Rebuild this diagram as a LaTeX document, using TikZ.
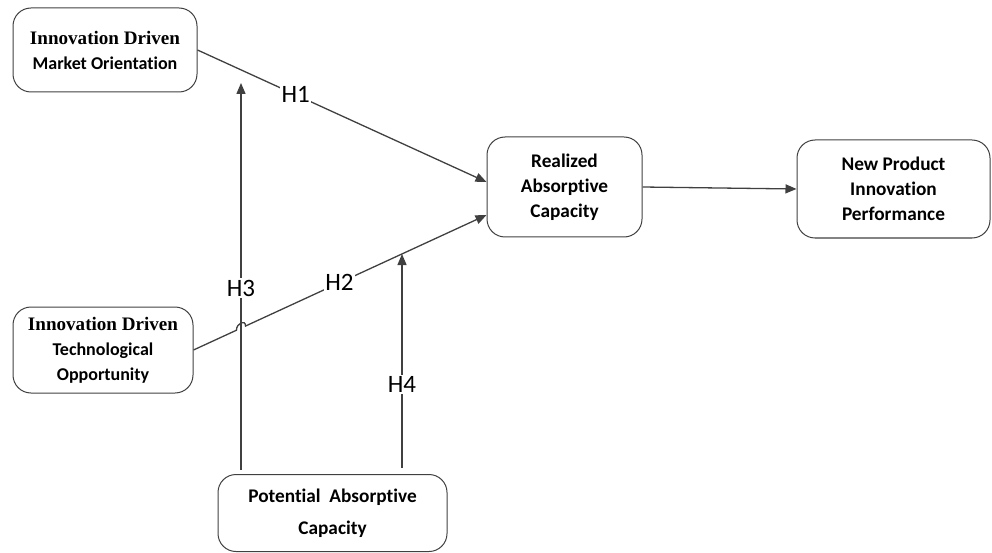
\documentclass[tikz,border=0pt]{standalone}
\usepackage{fontspec}
\setmainfont{Carlito}[Ligatures=NoCommon]
\newfontfamily\serifbf{Liberation Serif}[Scale=1.06]
\usetikzlibrary{arrows.meta,calc}
\begin{document}
\begin{tikzpicture}[x=1pt,y=-1pt,
	construct/.style={draw=black!75,line width=1pt,rounded corners=18pt,align=center,inner sep=0pt,
		font=\fontsize{18}{25}\selectfont\bfseries},
	bigger/.style={font=\fontsize{19.3}{25}\selectfont\bfseries},
	link/.style={draw=black!75,line width=1.3pt,-{Triangle[length=11pt,width=9pt]}},
	hyp/.style={fill=white,inner sep=1.5pt,font=\fontsize{25}{25}\selectfont}]
	\useasboundingbox (0,0) rectangle (992,553);
	% constructs
	\node[construct,minimum width=184pt,minimum height=84pt] (imo) at (105,50) {{\serifbf Innovation Driven}\\Market Orientation};
	\node[construct,minimum width=180pt,minimum height=86pt] (ito) at (103,350) {{\serifbf Innovation Driven}\\Technological\\Opportunity};
	\node[construct,bigger,minimum width=229pt,minimum height=77pt] (pac) at (332.5,513) {Potential~ Absorptive\\[7pt]Capacity};
	\node[construct,bigger,minimum width=155pt,minimum height=100pt] (rac) at (564.5,187) {Realized\\Absorptive\\Capacity};
	\node[construct,bigger,minimum width=193pt,minimum height=98pt] (npi) at (893.5,189) {New Product\\Innovation\\Performance};
	% end points
	\coordinate (h1e) at ([yshift=5pt]rac.west);
	\coordinate (h2e) at ([yshift=-28pt]rac.west);
	\coordinate (h3s) at (241,470);
	\coordinate (h3e) at (241,83);
	\coordinate (h4s) at (402,468);
	\coordinate (h4e) at (402,254);
	\coordinate (cross) at (intersection of ito.east--h2e and h3s--h3e);
	% hypotheses
	\draw[link] (imo.east) -- node[hyp,pos=0.34] {H1} (h1e);
	\draw[link] (h3s) -- node[hyp,pos=0.47] {H3} (h3e);
	\draw[link] (ito.east) -- ($(cross)!5pt!(ito.east)$) .. controls +(0,-7) and +(0,-7) .. ($(cross)!5pt!(h2e)$)
		-- node[hyp,pos=0.39] {H2} (h2e);
	\draw[link] (h4s) -- node[hyp,pos=0.39] {H4} (h4e);
	\draw[link] (rac.east) -- (npi.west);
\end{tikzpicture}
\end{document}
